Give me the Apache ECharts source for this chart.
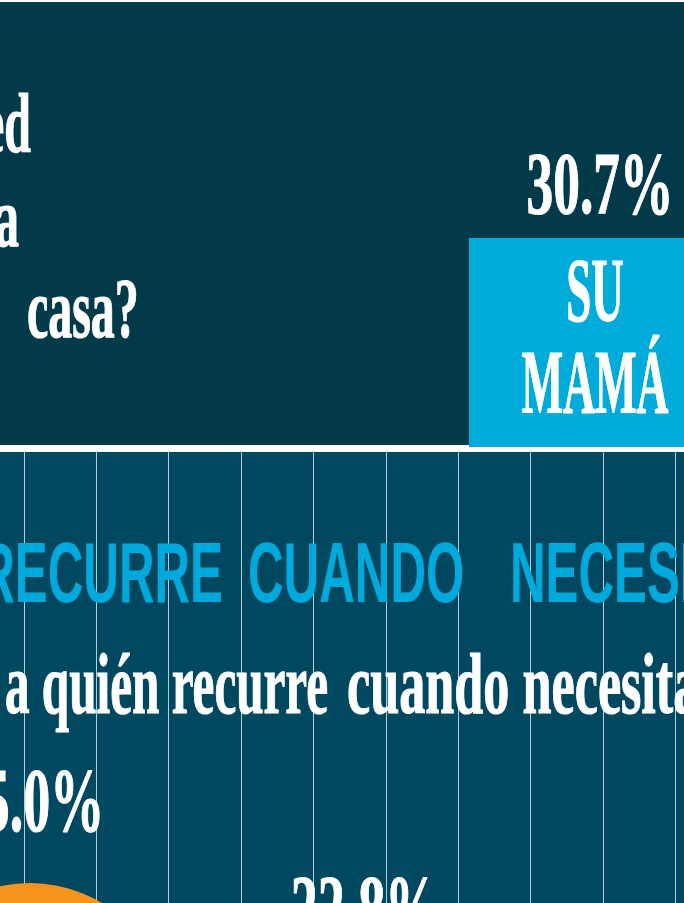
<!DOCTYPE html>
<html>
<head>
<meta charset="utf-8">
<script src="https://cdn.jsdelivr.net/npm/echarts@6/dist/echarts.min.js"></script>
<style>
  html, body { margin: 0; padding: 0; background: #fff; }
  #chart { width: 684px; height: 903px; }
</style>
</head>
<body>
<div id="chart"></div>
<script>
// pregunta de arriba (solo se ve el final de cada línea)
const questionLines = ['¿Con quién vive usted', 'la mayor parte en la', 'casa?'];
const topAnswer = ['SU', 'MAMÁ'];
const topValue = 30.7;

// sección de abajo
const sectionTitle = ['RECURRE', 'CUANDO', 'NECESITA'];
const sectionQuestion = ['a quién recurre', 'cuando necesita'];
const bubbleValues = [25.0, 22.8];
const columnTicks = [0, 9, 1]; // min, max, interval de las columnas

const serif = '"Liberation Serif", "DejaVu Serif", serif';
const sans = '"Liberation Sans", "DejaVu Sans", sans-serif';
const pct = (v) => v.toFixed(1) + '%';

const chart = echarts.init(document.getElementById('chart'), null, { renderer: 'canvas' });

//textos con fuente condensada (se comprime en x)
const txt = (text, x, y, size, scaleX, opt) => ({
  type: 'text',
  x: x,
  y: y,
  scaleX: scaleX,
  z: 20,
  style: Object.assign({
    text: text,
    font: 'bold ' + size + 'px ' + serif,
    fill: '#fff',
    stroke: '#fff',
    lineWidth: 1.2,
    align: 'left',
    verticalAlign: 'middle',
  }, opt || {}),
});

// escala de las burbujas: px por unidad en y, px por posición en x
const bubbleK = 43.05;
const bubbleStep = 335;
const bubbleX0 = 30;

const option = {
  animation: false,
  backgroundColor: '#fff',
  grid: [
    { left: 24, top: 452, right: 8.85, height: 451, show: false },
    { left: 0, top: 452, width: 684, height: 451, show: false },
  ],
  xAxis: [
    {
      gridIndex: 0,
      type: 'value',
      min: columnTicks[0],
      max: columnTicks[1],
      interval: columnTicks[2],
      z: 1,
      axisLine: { show: false },
      axisTick: { show: false },
      axisLabel: { show: false },
      splitLine: { show: true, lineStyle: { color: 'rgba(255,255,255,0.72)', width: 1 } },
    },
    {
      gridIndex: 1,
      type: 'value',
      min: -bubbleX0 / bubbleStep,
      max: (684 - bubbleX0) / bubbleStep,
      show: false,
      splitLine: { show: false },
    },
  ],
  yAxis: [
    { gridIndex: 0, type: 'value', show: false, splitLine: { show: false } },
    {
      gridIndex: 1,
      type: 'value',
      // 25.0 queda con el centro en y=1023 (fuera de la imagen)
      min: bubbleValues[0] + 120 / bubbleK,
      max: bubbleValues[0] + (120 + 451) / bubbleK,
      show: false,
      splitLine: { show: false },
    },
  ],
  graphic: [
    // fondos
    { type: 'rect', z: -10, shape: { x: 0, y: 2, width: 684, height: 443 }, style: { fill: '#033a4a' } },
    { type: 'rect', z: -10, shape: { x: 0, y: 452, width: 684, height: 451 }, style: { fill: '#004860' } },
    { type: 'rect', z: -9, shape: { x: 469, y: 238, width: 215, height: 209 }, style: { fill: '#00aad9' } },

    txt(questionLines[0], 31, 130, 84, 0.57, { align: 'right' }),
    txt(questionLines[1], 19, 224, 84, 0.57, { align: 'right' }),
    txt(questionLines[2], 27, 315, 84, 0.57),

    txt(pct(topValue), 600, 190, 89, 0.6, { align: 'center' }),
    txt(topAnswer[0], 595, 298, 90, 0.5, { align: 'center' }),
    txt(topAnswer[1], 595, 390, 90, 0.49, { align: 'center' }),

    txt(sectionTitle[0], 223, 579, 85, 0.58, { align: 'right', font: 'bold 85px ' + sans, fill: '#00a9dc', lineWidth: 0 }),
    txt(sectionTitle[1], 248, 579, 85, 0.58, { font: 'bold 85px ' + sans, fill: '#00a9dc', lineWidth: 0 }),
    txt(sectionTitle[2], 510, 579, 85, 0.58, { font: 'bold 85px ' + sans, fill: '#00a9dc', lineWidth: 0 }),

    txt(sectionQuestion[0], 5, 691, 87, 0.565),
    txt(sectionQuestion[1], 347, 691, 87, 0.6),
  ],
  series: [
    {
      type: 'custom',
      xAxisIndex: 1,
      yAxisIndex: 1,
      z: 10,
      clip: false,
      data: bubbleValues.map((v, i) => [i, v]),
      renderItem: (params, api) => {
        const v = api.value(1);
        const c = api.coord([api.value(0), v]);
        const r = v * 5.6;
        return {
          type: 'group',
          children: [
            { type: 'circle', shape: { cx: c[0], cy: c[1], r: r }, style: { fill: '#f7941d' } },
            {
              type: 'text',
              x: c[0],
              y: c[1] - r - 75,
              scaleX: 0.6,
              style: {
                text: pct(v),
                font: 'bold 90px ' + serif,
                fill: '#fff',
                stroke: '#fff',
                lineWidth: 1.2,
                align: 'center',
                verticalAlign: 'middle',
              },
            },
          ],
        };
      },
    },
  ],
};

chart.setOption(option);
</script>
</body>
</html>
